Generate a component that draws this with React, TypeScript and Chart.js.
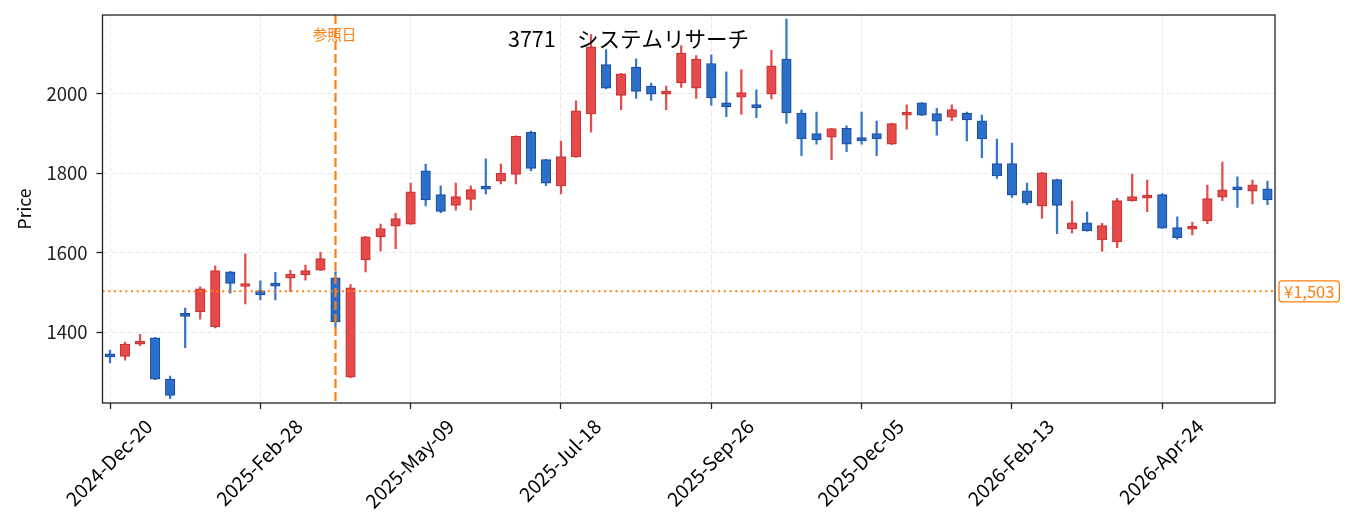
import { useEffect, useRef } from 'react';
import { Chart, registerables } from 'chart.js';

Chart.register(...registerables);

// weekly candles, first week 2024-12-20
const FIRST_WEEK = '2024-12-20';
const OPEN = [
  1344, 1339, 1370, 1386, 1282, 1446, 1451, 1414, 1552, 1515,
  1504, 1518, 1536, 1544, 1556, 1537, 1287, 1582, 1640, 1667,
  1672, 1806, 1746, 1719, 1734, 1766, 1780, 1797, 1903, 1834,
  1768, 1841, 1949, 2073, 1996, 2067, 2019, 1999, 2027, 2014,
  2076, 1977, 1991, 1971, 1999, 2087, 1951, 1900, 1891, 1913,
  1885, 1900, 1873, 1946, 1977, 1950, 1941, 1951, 1932, 1824,
  1824, 1756, 1717, 1784, 1660, 1675, 1632, 1627, 1731, 1737,
  1746, 1663, 1659, 1680, 1740, 1766, 1755, 1761,
];
const HIGH = [
  1355, 1375, 1395, 1387, 1290, 1461, 1514, 1567, 1553, 1597,
  1529, 1551, 1556, 1569, 1601, 1552, 1520, 1641, 1672, 1699,
  1775, 1823, 1768, 1775, 1768, 1836, 1823, 1894, 1906, 1835,
  1881, 1982, 2149, 2111, 2051, 2088, 2027, 2019, 2121, 2096,
  2098, 2055, 2061, 2010, 2109, 2188, 1959, 1954, 1913, 1919,
  1954, 1931, 1926, 1972, 1978, 1963, 1972, 1954, 1946, 1886,
  1876, 1775, 1802, 1785, 1730, 1702, 1674, 1737, 1798, 1783,
  1749, 1690, 1677, 1770, 1828, 1791, 1783, 1780,
];
const LOW = [
  1323, 1330, 1366, 1281, 1233, 1361, 1433, 1411, 1498, 1471,
  1481, 1481, 1502, 1531, 1555, 1414, 1286, 1552, 1604, 1610,
  1671, 1718, 1701, 1707, 1707, 1748, 1773, 1773, 1806, 1769,
  1748, 1840, 1903, 2012, 1960, 1988, 1983, 1960, 2016, 1988,
  1971, 1942, 1948, 1940, 1987, 1925, 1844, 1873, 1834, 1854,
  1873, 1844, 1872, 1911, 1945, 1896, 1932, 1881, 1839, 1787,
  1739, 1721, 1686, 1648, 1650, 1654, 1603, 1613, 1730, 1703,
  1661, 1634, 1645, 1673, 1731, 1714, 1723, 1721,
];
const CLOSE = [
  1338, 1370, 1377, 1282, 1241, 1440, 1509, 1555, 1523, 1520,
  1494, 1516, 1546, 1555, 1585, 1426, 1512, 1640, 1661, 1686,
  1753, 1733, 1704, 1741, 1759, 1760, 1800, 1893, 1812, 1775,
  1842, 1957, 2118, 2014, 2050, 2006, 1999, 2005, 2102, 2087,
  1990, 1967, 2003, 1965, 2070, 1952, 1886, 1884, 1912, 1873,
  1882, 1886, 1925, 1953, 1946, 1931, 1960, 1934, 1886, 1793,
  1745, 1725, 1801, 1719, 1675, 1655, 1668, 1731, 1741, 1741,
  1662, 1638, 1664, 1736, 1758, 1758, 1771, 1733,
];

const TICK_EVERY = 10;
const TICK_LABELS = [
  '2024-Dec-20', '2025-Feb-28', '2025-May-09', '2025-Jul-18',
  '2025-Sep-26', '2025-Dec-05', '2026-Feb-13', '2026-Apr-24',
];
const Y_TICKS = [1400, 1600, 1800, 2000];

const TITLE_CODE = '3771';
const TITLE_NAME = 'システムリサーチ';
const REF_INDEX = 15;
const REF_LABEL = '参照日';
const REF_PRICE = 1503;
const REF_PRICE_LABEL = '¥1,503';

const FONT = '"Noto Sans CJK JP", "Noto Sans", sans-serif';
const TICK_SIZE = 18.5;
const X_TICK_SIZE = 19.5;
const ORANGE = '#ff7f0e';
const AXIS = '#222222';
const GRID = 'rgba(0,0,0,0.09)';
const UP_FILL = '#e64a4a';
const UP_EDGE = '#c93434';
const UP_WICK = '#e24e4e';
const DOWN_FILL = '#2c6fca';
const DOWN_EDGE = '#1d4fa0';
const DOWN_WICK = '#3578cd';

const weeks = OPEN.map((_, i) => {
  const d = new Date(FIRST_WEEK + 'T00:00:00Z');
  d.setUTCDate(d.getUTCDate() + i * 7);
  return d.toISOString().slice(0, 10);
});

const overlay = {
  id: 'overlay',
  afterDatasetsDraw(chart: any) {
    const { ctx, chartArea: a, scales } = chart;
    const xs = scales.x;
    const ys = scales.y;
    ctx.save();

    // reference date
    const rx = xs.getPixelForValue(REF_INDEX);
    ctx.strokeStyle = ORANGE;
    ctx.lineWidth = 2.2;
    ctx.setLineDash([9, 4]);
    ctx.beginPath();
    ctx.moveTo(rx, a.top);
    ctx.lineTo(rx, a.bottom);
    ctx.stroke();

    // reference price
    const ry = ys.getPixelForValue(REF_PRICE);
    ctx.lineWidth = 2;
    ctx.setLineDash([2, 3.7]);
    ctx.beginPath();
    ctx.moveTo(a.left, ry);
    ctx.lineTo(a.right, ry);
    ctx.stroke();
    ctx.setLineDash([]);

    // frame
    ctx.strokeStyle = AXIS;
    ctx.lineWidth = 1.3;
    ctx.strokeRect(a.left, a.top, a.right - a.left, a.bottom - a.top);

    // title
    ctx.fillStyle = '#000';
    ctx.font = `21.5px ${FONT}`;
    ctx.textAlign = 'left';
    ctx.textBaseline = 'middle';
    ctx.fillText(TITLE_CODE, 508, 39);
    ctx.fillText(TITLE_NAME, 577, 39);

    // reference label
    ctx.fillStyle = ORANGE;
    ctx.font = `14.5px ${FONT}`;
    ctx.textAlign = 'center';
    ctx.fillText(REF_LABEL, rx - 1, 34);

    // price label box
    ctx.font = `16.5px ${FONT}`;
    const tw = ctx.measureText(REF_PRICE_LABEL).width;
    const bx = a.right + 4;
    const bw = tw + 10;
    ctx.fillStyle = '#fff';
    ctx.strokeStyle = ORANGE;
    ctx.lineWidth = 1.3;
    ctx.beginPath();
    ctx.roundRect(bx, ry - 10.5, bw, 21, 3);
    ctx.fill();
    ctx.stroke();
    ctx.fillStyle = ORANGE;
    ctx.fillText(REF_PRICE_LABEL, bx + bw / 2, ry + 0.5);

    // y title
    ctx.fillStyle = '#000';
    ctx.font = `17.5px ${FONT}`;
    ctx.save();
    ctx.translate(24, (a.top + a.bottom) / 2);
    ctx.rotate(-Math.PI / 2);
    ctx.fillText('Price', 0, 0);
    ctx.restore();

    // x tick labels, rotated 45 and centred on the tick
    ctx.font = `${X_TICK_SIZE}px ${FONT}`;
    TICK_LABELS.forEach((t, k) => {
      const x = xs.getPixelForValue(k * TICK_EVERY);
      const w = ctx.measureText(t).width;
      const h = X_TICK_SIZE;
      const cy = a.bottom + 13 + (w + h) * 0.3536;
      ctx.save();
      ctx.translate(x - 1, cy);
      ctx.rotate(-Math.PI / 4);
      ctx.fillText(t, 0, 0);
      ctx.restore();
    });

    ctx.restore();
  },
};

const App = () => {
  const canvasRef = useRef<HTMLCanvasElement>(null);
  const chartRef = useRef<Chart | null>(null);

  useEffect(() => {
    if (!canvasRef.current) return;
    if (chartRef.current) chartRef.current.destroy();

    const up = OPEN.map((o, i) => CLOSE[i] >= o);

    chartRef.current = new Chart(canvasRef.current, {
      type: 'bar',
      data: {
        labels: weeks,
        datasets: [
          {
            label: 'body',
            data: OPEN.map((o, i) => [o, CLOSE[i]]) as any,
            backgroundColor: up.map((u) => (u ? UP_FILL : DOWN_FILL)),
            borderColor: up.map((u) => (u ? UP_EDGE : DOWN_EDGE)),
            borderWidth: 1.2,
            borderSkipped: false,
            barThickness: 9.5,
            minBarLength: 3,
            grouped: false,
            order: 0,
          },
          {
            label: 'wick',
            data: LOW.map((l, i) => [l, HIGH[i]]) as any,
            backgroundColor: up.map((u) => (u ? UP_WICK : DOWN_WICK)),
            borderWidth: 0,
            barThickness: 1.6,
            grouped: false,
            order: 1,
          },
        ],
      },
      options: {
        responsive: false,
        animation: false,
        layout: { padding: { top: 15, right: 78, left: 0, bottom: 0 } },
        plugins: {
          legend: { display: false },
          tooltip: { enabled: false },
        },
        scales: {
          x: {
            type: 'category',
            offset: true,
            grid: {
              offset: false,
              lineWidth: 1,
              color: (c: any) => (c.index % TICK_EVERY === 0 ? GRID : 'transparent'),
              tickColor: (c: any) => (c.index % TICK_EVERY === 0 ? AXIS : 'transparent'),
              tickLength: 6,
              tickWidth: 1.3,
            },
            border: { display: false, dash: [5, 3] },
            ticks: { display: false },
            afterFit: (s: any) => {
              s.height = 128;
              s.paddingLeft = 0;
              s.paddingRight = 0;
            },
          },
          y: {
            min: 1222,
            max: 2198,
            afterBuildTicks: (s: any) => {
              s.ticks = Y_TICKS.map((v) => ({ value: v }));
            },
            grid: {
              color: GRID,
              lineWidth: 1,
              tickColor: AXIS,
              tickLength: 6,
              tickWidth: 1.3,
            },
            border: { display: false, dash: [5, 3] },
            ticks: {
              color: '#222',
              padding: 9,
              font: { family: FONT, size: TICK_SIZE },
              callback: (v: any) => String(v),
            },
            afterFit: (s: any) => {
              s.width = 102.5;
              s.paddingTop = 0;
              s.paddingBottom = 0;
            },
          },
        },
      },
      plugins: [overlay],
    });

    return () => {
      if (chartRef.current) {
        chartRef.current.destroy();
        chartRef.current = null;
      }
    };
  }, []);

  return (
    <div style={{ position: 'absolute', left: 0, top: 0, width: 1353, height: 531, background: '#fff' }}>
      <canvas ref={canvasRef} width={1353} height={531} />
    </div>
  );
};

export default App;
